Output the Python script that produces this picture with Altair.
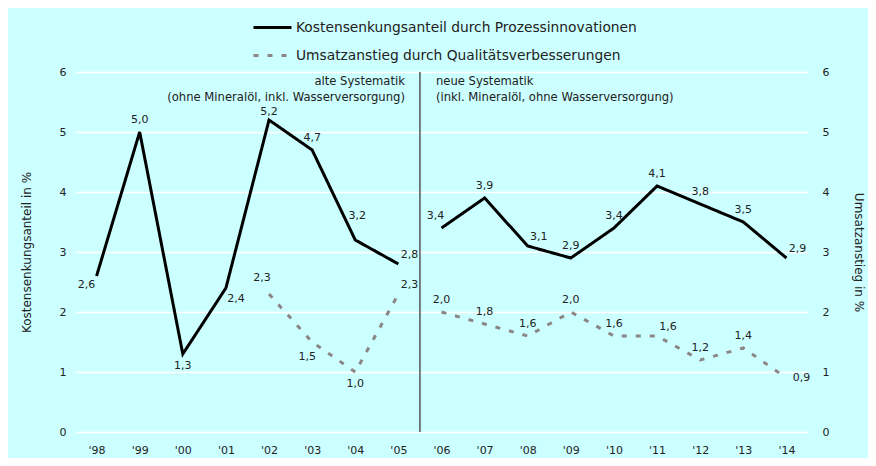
import altair as alt
import pandas as pd

# ---- data ----
years = list(range(1998, 2015))
kosten = [2.6, 5.0, 1.3, 2.4, 5.2, 4.7, 3.2, 2.8, 3.4, 3.9, 3.1, 2.9, 3.4, 4.1, 3.8, 3.5, 2.9]
umsatz = [None, None, None, None, 2.3, 1.5, 1.0, 2.3, 2.0, 1.8, 1.6, 2.0, 1.6, 1.6, 1.2, 1.4, 0.9]
series_names = ["Kostensenkungsanteil durch Prozessinnovationen",
                "Umsatzanstieg durch Qualitätsverbesserungen"]
y_ticks = [0, 1, 2, 3, 4, 5, 6]
break_year = 2005.5
note_old = "alte Systematik\n(ohne Mineralöl, inkl. Wasserversorgung)"
note_new = "neue Systematik\n(inkl. Mineralöl, ohne Wasserversorgung)"

# label placement (where the value label sits relative to its point)
k_place = {1998: "belowleft", 2000: "below", 2001: "belowright", 2002: "aboveclose",
           2004: "abovefar", 2005: "aboveright", 2006: "aboveleft", 2008: "aboveright",
           2014: "aboveright"}
u_place = {2002: "aboveleftfar", 2003: "belowleft2", 2004: "below", 2005: "aboveright",
           2011: "aboveright", 2014: "right"}
offsets = {
    "above": (0, -12), "aboveclose": (0, -8), "abovefar": (2, -24),
    "below": (0, 12), "belowleft": (-10, 9), "belowleft2": (-5, 15),
    "belowright": (10, 11), "aboveleft": (-6, -12), "aboveleftfar": (-7, -16),
    "aboveright": (11, -9), "right": (15, 0),
}

rows = []
for yr, k, u in zip(years, kosten, umsatz):
    seg = "alt" if yr < break_year else "neu"
    rows.append(dict(year=yr, value=k, series=series_names[0], seg=seg,
                     pos=k_place.get(yr, "above")))
    if u is not None:
        rows.append(dict(year=yr, value=u, series=series_names[1], seg=seg,
                         pos=u_place.get(yr, "above")))
df = pd.DataFrame(rows)
df["label"] = df["value"].map(lambda v: f"{v:.1f}".replace(".", ","))

FONT = "DejaVu Sans"
TXT = "#222222"

x_enc = alt.X("year:Q",
              scale=alt.Scale(domain=[1997.5, 2014.5], nice=False, zero=False),
              axis=alt.Axis(values=years, format="d",
                            labelExpr="\"'\" + slice(datum.label, 2)",
                            title=None, grid=False, domain=False, ticks=False,
                            labelPadding=12, labelFontSize=11, labelFont=FONT,
                            labelColor=TXT))
y_scale = alt.Scale(domain=[0, 6], nice=False, zero=True)

legend_kw = dict(title=None, orient="none", legendX=177, legendY=-65,
                 direction="vertical", symbolType="stroke",
                 symbolSize=1444, symbolStrokeWidth=3,
                 labelFont=FONT, labelFontSize=13.8, labelColor=TXT,
                 labelOffset=3, rowPadding=-4, labelLimit=600)

lines = alt.Chart(df).mark_line(strokeWidth=3, strokeJoin="miter").encode(
    x=x_enc,
    y=alt.Y("value:Q", scale=y_scale,
            axis=alt.Axis(values=y_ticks, format="d", title="Kostensenkungsanteil in %",
                          grid=True, gridColor="white", gridWidth=1.5,
                          domain=False, ticks=False, labelPadding=9,
                          labelFontSize=11, labelFont=FONT, labelColor=TXT,
                          titleFont=FONT, titleFontSize=12, titleFontWeight="normal",
                          titleColor=TXT, titlePadding=26)),
    color=alt.Color("series:N",
                    scale=alt.Scale(domain=series_names, range=["#000000", "#8c8585"]),
                    legend=alt.Legend(**legend_kw)),
    strokeDash=alt.StrokeDash("series:N",
                              scale=alt.Scale(domain=series_names, range=[[1, 0], [5, 9]]),
                              legend=alt.Legend(**legend_kw)),
    detail="seg:N",
)

label_layers = []
for key, (dx, dy) in offsets.items():
    label_layers.append(
        alt.Chart(df).transform_filter(alt.datum.pos == key)
        .mark_text(dx=dx, dy=dy, font=FONT, fontSize=11, color=TXT, baseline="middle")
        .encode(x="year:Q", y=alt.Y("value:Q", scale=y_scale), text="label:N")
    )

div_df = pd.DataFrame({"year": [break_year], "value": [6]})
divider = alt.Chart(div_df).mark_rule(color="#555555", strokeWidth=1.5).encode(x="year:Q")
note_l = alt.Chart(div_df).mark_text(align="right", baseline="top", dx=-15, dy=4,
                                     lineBreak="\n", lineHeight=16, font=FONT,
                                     fontSize=11.6, color=TXT).encode(
    x="year:Q", y=alt.Y("value:Q", scale=y_scale), text=alt.value(note_old))
note_r = alt.Chart(div_df).mark_text(align="left", baseline="top", dx=16, dy=4,
                                     lineBreak="\n", lineHeight=16, font=FONT,
                                     fontSize=11.6, color=TXT).encode(
    x="year:Q", y=alt.Y("value:Q", scale=y_scale), text=alt.value(note_new))

left = alt.layer(divider, lines, *label_layers, note_l, note_r)

right_axis = alt.Chart(df).mark_line(opacity=0).encode(
    x="year:Q",
    y=alt.Y("value:Q", scale=y_scale,
            axis=alt.Axis(orient="right", values=y_ticks, format="d",
                          title="Umsatzanstieg in %", grid=False, domain=False,
                          ticks=False, labelPadding=14, labelFontSize=11, labelFont=FONT,
                          labelColor=TXT, titleFont=FONT, titleFontSize=12,
                          titleFontWeight="normal", titleColor=TXT, titlePadding=23)),
    detail="seg:N",
)

chart = alt.layer(left, right_axis).resolve_scale(y="independent").properties(
    width=733, height=360,
    autosize=alt.AutoSizeParams(type="none"),
    padding={"left": 67, "top": 64, "right": 60, "bottom": 26},
    background="#ccffff",
).configure_view(stroke=None)

chart.save("out.html", embed_options={"renderer": "svg", "actions": False})
